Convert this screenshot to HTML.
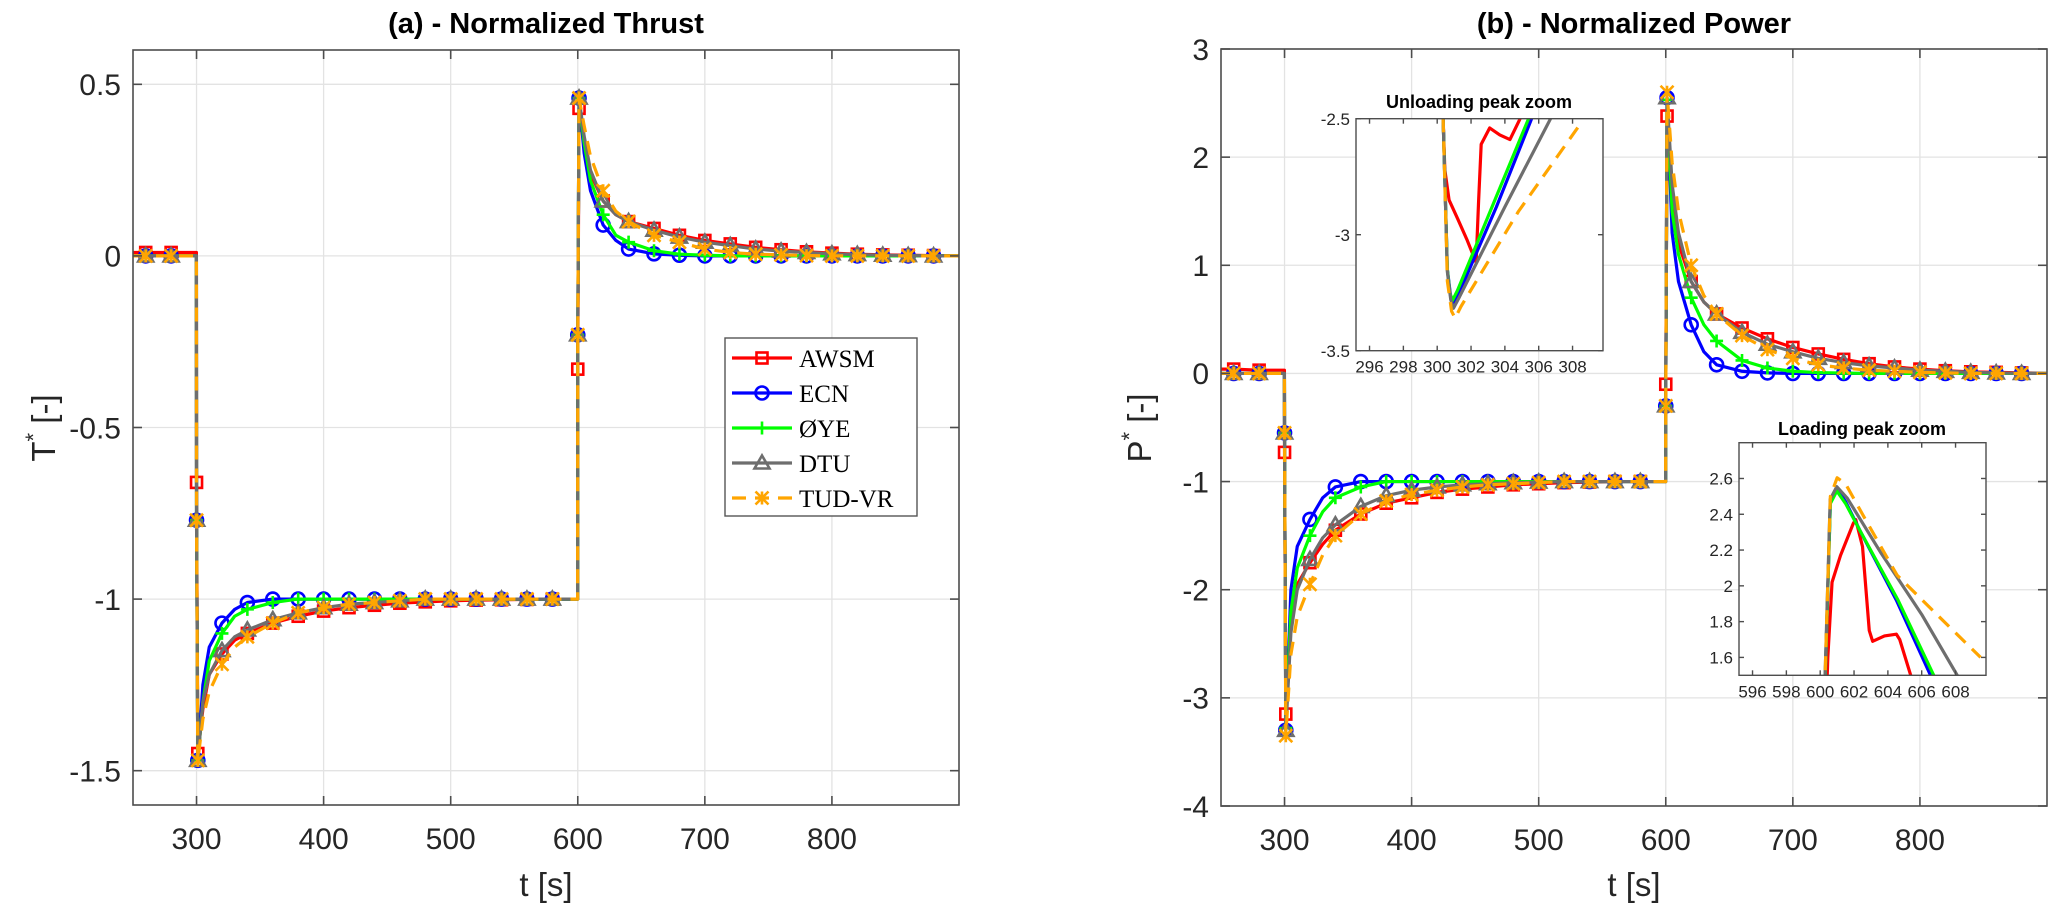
<!DOCTYPE html>
<html><head><meta charset="utf-8"><style>
html,body{margin:0;padding:0;background:#fff;}
svg{display:block;font-family:"Liberation Sans",Arial,sans-serif;}
</style></head><body>
<svg id="fig" width="2067" height="912" viewBox="0 0 2067 912" xmlns="http://www.w3.org/2000/svg"></svg>
<script>
// ---------- DATA ----------
const seriesNames = ["AWSM","ECN","ØYE","DTU","TUD-VR"];
const times = [250,260,280,299.9,300,301,305,310,320,330,340,360,380,400,420,440,460,480,500,520,540,560,580,599.9,600,601,605,610,620,630,640,660,680,700,720,740,760,780,800,820,840,860,880,900];
const markerTimes = [260,280,300,301,320,340,360,380,400,420,440,460,480,500,520,540,560,580,600,601,620,640,660,680,700,720,740,760,780,800,820,840,860,880];

const thrustAWSM = [0.01,0.01,0.01,0.01,-0.66,-1.45,-1.32,-1.22,-1.16,-1.12,-1.10,-1.07,-1.05,-1.035,-1.025,-1.018,-1.012,-1.008,-1.005,-1.003,-1.002,-1.001,-1.0,-1.0,-0.33,0.43,0.33,0.24,0.16,0.12,0.10,0.08,0.06,0.045,0.035,0.025,0.018,0.012,0.008,0.005,0.003,0.002,0.001,0];
const thrustECN  = [0,0,0,0,-0.77,-1.47,-1.25,-1.14,-1.07,-1.03,-1.01,-1.0,-1.0,-1.0,-1.0,-1.0,-1.0,-1.0,-1.0,-1.0,-1.0,-1.0,-1.0,-1.0,-0.23,0.46,0.30,0.19,0.09,0.045,0.02,0.006,0.002,0,0,0,0,0,0,0,0,0,0,0];
const thrustOYE  = [0,0,0,0,-0.77,-1.47,-1.30,-1.18,-1.10,-1.05,-1.03,-1.01,-1.0,-1.0,-1.0,-1.0,-1.0,-1.0,-1.0,-1.0,-1.0,-1.0,-1.0,-1.0,-0.23,0.46,0.33,0.22,0.12,0.06,0.04,0.015,0.005,0.002,0,0,0,0,0,0,0,0,0,0];
const thrustDTU  = [0,0,0,0,-0.77,-1.47,-1.30,-1.22,-1.15,-1.11,-1.09,-1.06,-1.04,-1.025,-1.015,-1.01,-1.005,-1.0,-1.0,-1.0,-1.0,-1.0,-1.0,-1.0,-0.23,0.46,0.35,0.25,0.16,0.12,0.10,0.075,0.055,0.04,0.03,0.02,0.014,0.01,0.006,0.004,0.002,0.001,0,0];
const thrustTUD  = [0,0,0,0,-0.77,-1.47,-1.35,-1.27,-1.19,-1.14,-1.11,-1.07,-1.04,-1.025,-1.015,-1.01,-1.005,-1.0,-1.0,-1.0,-1.0,-1.0,-1.0,-1.0,-0.23,0.46,0.38,0.29,0.19,0.13,0.10,0.06,0.04,0.02,0.01,0.005,0.003,0.001,0,0,0,0,0,0];

const powerAWSM = [0.04,0.04,0.03,0.03,-0.73,-3.15,-2.2,-1.95,-1.75,-1.58,-1.45,-1.30,-1.20,-1.15,-1.10,-1.07,-1.05,-1.03,-1.02,-1.01,-1.005,-1.0,-1.0,-1.0,-0.1,2.38,1.6,1.2,0.85,0.66,0.55,0.42,0.32,0.24,0.18,0.13,0.09,0.06,0.04,0.025,0.015,0.01,0.005,0];
const powerECN  = [0,0,0,0,-0.55,-3.3,-2.0,-1.6,-1.35,-1.15,-1.05,-1.0,-1.0,-1.0,-1.0,-1.0,-1.0,-1.0,-1.0,-1.0,-1.0,-1.0,-1.0,-1.0,-0.3,2.55,1.3,0.85,0.45,0.2,0.08,0.02,0.005,0,0,0,0,0,0,0,0,0,0,0];
const powerOYE  = [0,0,0,0,-0.55,-3.28,-2.2,-1.8,-1.5,-1.28,-1.15,-1.05,-1.0,-1.0,-1.0,-1.0,-1.0,-1.0,-1.0,-1.0,-1.0,-1.0,-1.0,-1.0,-0.3,2.53,1.5,1.1,0.7,0.45,0.3,0.12,0.05,0.02,0.008,0.003,0,0,0,0,0,0,0,0];
const powerDTU  = [0,0,0,0,-0.55,-3.3,-2.4,-2.0,-1.72,-1.52,-1.4,-1.23,-1.13,-1.08,-1.05,-1.03,-1.02,-1.01,-1.005,-1.0,-1.0,-1.0,-1.0,-1.0,-0.3,2.55,1.75,1.3,0.85,0.66,0.55,0.38,0.27,0.2,0.14,0.1,0.07,0.05,0.03,0.02,0.01,0.005,0,0];
const powerTUD  = [0,0,0,0,-0.55,-3.35,-2.6,-2.25,-1.95,-1.68,-1.5,-1.3,-1.18,-1.12,-1.08,-1.05,-1.03,-1.02,-1.01,-1.0,-1.0,-1.0,-1.0,-1.0,-0.3,2.6,1.95,1.5,1.0,0.72,0.55,0.35,0.22,0.14,0.08,0.05,0.03,0.02,0.01,0.005,0,0,0,0];

// unloading zoom (t, P)
const unlAWSM_t = [300.3,300.35,300.45,300.7,301.2,301.75,302.3,302.45,302.6,303.1,303.7,304.3,304.9];
const unlAWSM_p = [-2.3,-2.5,-2.72,-2.85,-2.93,-3.02,-3.12,-2.85,-2.61,-2.54,-2.57,-2.59,-2.5];
const unlECN_t = [300.3,300.35,300.6,300.8,300.95,301.3,303.5,305.58,306];
const unlECN_p = [-2.3,-2.5,-3.15,-3.27,-3.30,-3.25,-2.88,-2.5,-2.42];
const unlOYE_t = [300.3,300.35,300.6,300.75,300.9,301.2,303.3,305.4,306];
const unlOYE_p = [-2.3,-2.5,-3.15,-3.25,-3.284,-3.24,-2.87,-2.5,-2.4];
const unlDTU_t = [300.3,300.35,300.6,300.8,300.96,301.3,304,306.7,307.2];
const unlDTU_p = [-2.3,-2.5,-3.16,-3.28,-3.317,-3.27,-2.88,-2.5,-2.43];
const unlTUD_t = [300.3,300.35,300.6,300.85,301.06,301.4,304.8,308.35];
const unlTUD_p = [-2.3,-2.5,-3.2,-3.33,-3.36,-3.31,-2.9,-2.534];

// loading zoom (t, P)
const ldAWSM_t = [600.38,600.45,600.7,601.2,601.96,602.1,602.5,602.9,603.1,603.8,604.5,604.7,605.35,605.6];
const ldAWSM_p = [1.4,1.6,2.02,2.17,2.35,2.37,2.22,1.75,1.69,1.72,1.73,1.70,1.5,1.4];
const ldECN_t = [600.25,600.3,600.6,600.98,601.5,602.4,604.5,606.52,606.8];
const ldECN_p = [1.4,1.5,2.47,2.545,2.47,2.3,1.92,1.5,1.44];
const ldOYE_t = [600.25,600.3,600.6,600.98,601.5,602.4,604.6,606.71,607];
const ldOYE_p = [1.4,1.5,2.46,2.53,2.46,2.3,1.92,1.5,1.44];
const ldDTU_t = [600.25,600.29,600.59,600.98,601.6,603.55,606,608.1,608.5];
const ldDTU_p = [1.4,1.5,2.484,2.554,2.49,2.19,1.84,1.5,1.44];
const ldTUD_t = [600.25,600.29,600.6,601.0,601.5,602.5,604.54,607,609.48];
const ldTUD_p = [1.4,1.5,2.5,2.604,2.57,2.4,2.06,1.83,1.6];

// ticks
const thrustXTicks = [300,400,500,600,700,800];
const thrustYTicks = [-1.5,-1,-0.5,0,0.5];
const thrustYLabels = ["-1.5","-1","-0.5","0","0.5"];
const powerYTicks = [-4,-3,-2,-1,0,1,2,3];
const unlXTicks = [296,298,300,302,304,306,308];
const unlYTicks = [-3.5,-3,-2.5];
const unlYLabels = ["-3.5","-3","-2.5"];
const ldXTicks = [596,598,600,602,604,606,608];
const ldYTicks = [1.6,1.8,2,2.2,2.4,2.6];
const ldYLabels = ["1.6","1.8","2","2.2","2.4","2.6"];

// ---------- DRAWING ----------
const NS = "http://www.w3.org/2000/svg";
const svg = document.getElementById("fig");
const COLORS = ["#ff0000","#0000ff","#00ff00","#6e6e6e","#ffa500"];
const MARKS = ["square","circle","plus","triangle","star"];

function mk(tag, parent, attrs){
  const e = document.createElementNS(NS, tag);
  for (const k in attrs) e.setAttribute(k, attrs[k]);
  parent.appendChild(e);
  return e;
}
function scale(d0,d1,p0,p1){ return v => p0 + (v-d0)/(d1-d0)*(p1-p0); }
function txt(parent, x, y, s, size, anchor, extra){
  const t = mk("text", parent, Object.assign({x:x, y:y, "font-size":size, "text-anchor":anchor||"middle", fill:"#262626"}, extra||{}));
  t.textContent = s;
  return t;
}

function axes(name, box, xd, yd, xticks, xlabels, yticks, ylabels, opts){
  const g = mk("g", svg, {});
  
  
  const sx = scale(xd[0], xd[1], box.l, box.r);
  const sy = scale(yd[0], yd[1], box.b, box.t);
  mk("rect", g, {x:box.l, y:box.t, width:box.r-box.l, height:box.b-box.t, fill:"#fff"});
  const cid = name + "-clip";
  const cp = mk("clipPath", g, {id:cid});
  mk("rect", cp, {x:box.l, y:box.t, width:box.r-box.l, height:box.b-box.t});
  if (opts.grid){
    const gg = mk("g", g, {stroke:"#e3e3e3", "stroke-width":1.3});
    
    
    xticks.forEach(v => mk("line", gg, {x1:sx(v), x2:sx(v), y1:box.t, y2:box.b}));
    yticks.forEach(v => mk("line", gg, {y1:sy(v), y2:sy(v), x1:box.l, x2:box.r}));
  }
  const plot = mk("g", g, {"clip-path":"url(#"+cid+")"});
  
  
  // frame + ticks
  const fr = mk("g", g, {stroke:"#4d4d4d", "stroke-width":opts.fw||1.6, fill:"none"});
  mk("rect", fr, {x:box.l, y:box.t, width:box.r-box.l, height:box.b-box.t});
  const tl = opts.tl || 8;
  xticks.forEach(v => { mk("line", fr, {x1:sx(v), x2:sx(v), y1:box.b, y2:box.b-tl}); mk("line", fr, {x1:sx(v), x2:sx(v), y1:box.t, y2:box.t+tl}); });
  yticks.forEach(v => { mk("line", fr, {y1:sy(v), y2:sy(v), x1:box.l, x2:box.l+tl}); mk("line", fr, {y1:sy(v), y2:sy(v), x1:box.r, x2:box.r-tl}); });
  const xl = mk("g", g, {});
  
  
  xticks.forEach((v,i) => txt(xl, sx(v), box.b + opts.xlOff, xlabels[i], opts.fs));
  const yl = mk("g", g, {});
  
  
  yticks.forEach((v,i) => txt(yl, box.l - opts.ylOff, sy(v) + opts.fs*0.36, ylabels[i], opts.fs, "end"));
  return {sx, sy, plot};
}

function marker(parent, type, x, y, color){
  const r = 6.5;
  const a = {stroke:color, "stroke-width":2.6, fill:"none"};
  let m;
  if (type==="square") m = mk("rect", parent, Object.assign({x:x-r+1, y:y-r+1, width:2*r-2, height:2*r-2}, a));
  else if (type==="circle") m = mk("circle", parent, Object.assign({cx:x, cy:y, r:r}, a));
  else if (type==="plus") m = mk("path", parent, Object.assign({d:`M${x-r},${y}H${x+r}M${x},${y-r}V${y+r}`}, a));
  else if (type==="triangle") m = mk("path", parent, Object.assign({d:`M${x},${y-r-1}L${x+r+1},${y+r-1}L${x-r-1},${y+r-1}Z`}, a));
  else m = mk("path", parent, Object.assign({d:`M${x-r},${y-r}L${x+r},${y+r}M${x+r},${y-r}L${x-r},${y+r}M${x},${y-r}V${y+r}`}, a));
  return m;
}

function series(ax, name, xs, ys, idx, withMarkers){
  const g = mk("g", ax.plot, {});
  
  
  const d = xs.map((t,i) => (i?"L":"M") + ax.sx(t).toFixed(2) + "," + ax.sy(ys[i]).toFixed(2)).join("");
  const p = mk("path", g, {d:d, fill:"none", stroke:COLORS[idx], "stroke-width":3.2, "stroke-linejoin":"round"});
  if (idx===4) p.setAttribute("stroke-dasharray","14,9");
  if (withMarkers){
    xs.forEach((t,i) => { if (markerTimes.indexOf(t) >= 0) marker(g, MARKS[idx], ax.sx(t), ax.sy(ys[i]), COLORS[idx]); });
  }
}

// ---- Plot (a) ----
const mainOpts = {grid:true, fs:30, xlOff:44, ylOff:12, tl:9};
const axA = axes("thrust-axes", {l:133, r:959, t:50, b:805}, [250,900], [-1.6,0.6],
  thrustXTicks, thrustXTicks.map(String), thrustYTicks, thrustYLabels, mainOpts);
[thrustAWSM,thrustECN,thrustOYE,thrustDTU,thrustTUD].forEach((arr,i) => series(axA, "thrust-" + seriesNames[i].toLowerCase().replace("ø","o") + "-series", times, arr, i, true));

// ---- Plot (b) ----
const axB = axes("power-axes", {l:1221, r:2047, t:49, b:806}, [250,900], [-4,3],
  thrustXTicks, thrustXTicks.map(String), powerYTicks, powerYTicks.map(String), mainOpts);
[powerAWSM,powerECN,powerOYE,powerDTU,powerTUD].forEach((arr,i) => series(axB, "power-" + seriesNames[i].toLowerCase().replace("ø","o") + "-series", times, arr, i, true));

// ---- insets ----
const inOpts = {grid:false, fs:17, xlOff:22, ylOff:6, tl:5, fw:1.4};
const axU = axes("unloading-inset", {l:1356, r:1603, t:118.7, b:350.7}, [295.2,309.8], [-3.5,-2.5],
  unlXTicks, unlXTicks.map(String), unlYTicks, unlYLabels, inOpts);
[[unlAWSM_t,unlAWSM_p],[unlECN_t,unlECN_p],[unlOYE_t,unlOYE_p],[unlDTU_t,unlDTU_p],[unlTUD_t,unlTUD_p]].forEach((s,i) => series(axU, "unloading-" + seriesNames[i].toLowerCase().replace("ø","o") + "-curve", s[0], s[1], i, false));
const axL = axes("loading-inset", {l:1739, r:1986, t:442.7, b:675.3}, [595.2,609.8], [1.5,2.8],
  ldXTicks, ldXTicks.map(String), ldYTicks, ldYLabels, inOpts);
[[ldAWSM_t,ldAWSM_p],[ldECN_t,ldECN_p],[ldOYE_t,ldOYE_p],[ldDTU_t,ldDTU_p],[ldTUD_t,ldTUD_p]].forEach((s,i) => series(axL, "loading-" + seriesNames[i].toLowerCase().replace("ø","o") + "-curve", s[0], s[1], i, false));

// ---- titles / labels ----
let t;
t = txt(svg, 546, 33, "(a) - Normalized Thrust", 29, "middle", {"font-weight":"bold", fill:"#000"});


t = txt(svg, 1634, 33, "(b) - Normalized Power", 29, "middle", {"font-weight":"bold", fill:"#000"});


t = txt(svg, 546, 896, "t [s]", 33);


t = txt(svg, 1634, 896, "t [s]", 33);


t = txt(svg, 0, 0, "", 33, "middle", {transform:"translate(55,428) rotate(-90)"});
t.innerHTML = 'T<tspan font-size="22" dy="-14">*</tspan><tspan dy="14"> [-]</tspan>';


t = txt(svg, 0, 0, "", 33, "middle", {transform:"translate(1151,428) rotate(-90)"});
t.innerHTML = 'P<tspan font-size="22" dy="-14">*</tspan><tspan dy="14"> [-]</tspan>';


t = txt(svg, 1479, 108, "Unloading peak zoom", 18, "middle", {"font-weight":"bold", fill:"#000"});


t = txt(svg, 1862, 435, "Loading peak zoom", 18, "middle", {"font-weight":"bold", fill:"#000"});



// ---- legend ----
const lg = mk("g", svg, {});


mk("rect", lg, {x:725, y:338, width:192, height:178, fill:"#fff", stroke:"#555", "stroke-width":1.4});
seriesNames.forEach((n,i) => {
  const y = 358 + i*35;
  const e = mk("g", lg, {});
  
  
  const ln = mk("line", e, {x1:732, x2:792, y1:y, y2:y, stroke:COLORS[i], "stroke-width":3.2});
  if (i===4) ln.setAttribute("stroke-dasharray","14,9");
  marker(e, MARKS[i], 762, y, COLORS[i]);
  const tt = txt(e, 799, y+9, n, 25, "start", {"font-family":'"Liberation Serif",serif', fill:"#000"});
});
</script>
</body></html>
